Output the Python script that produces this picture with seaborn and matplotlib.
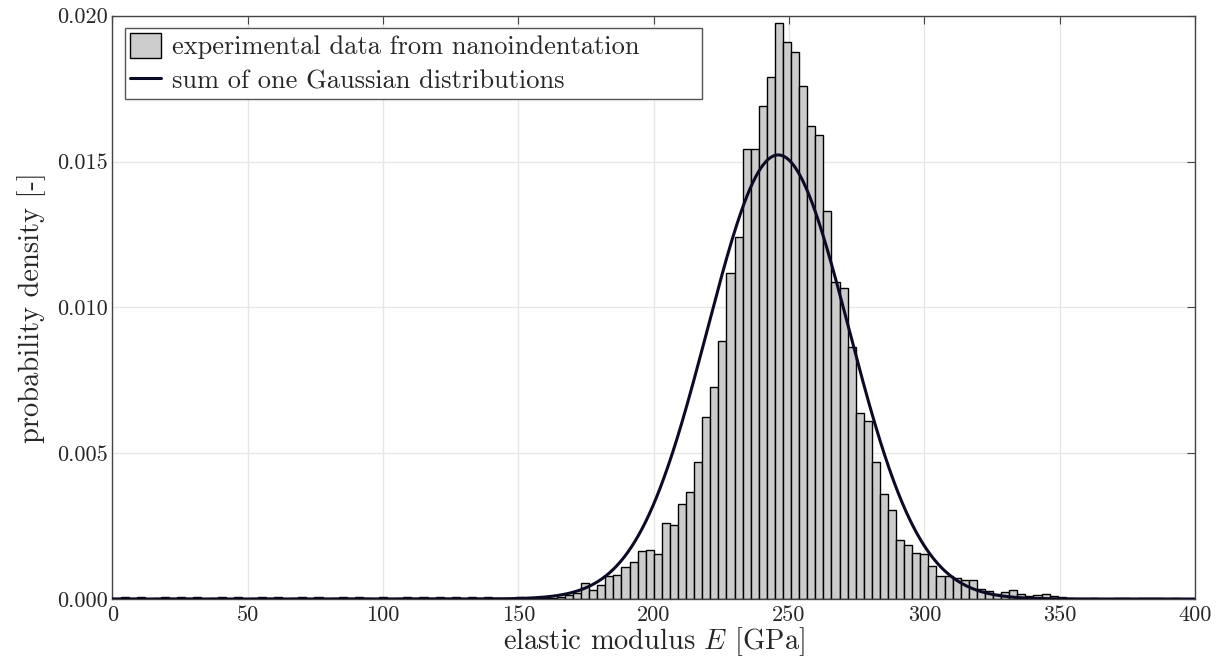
import numpy as np
import pandas as pd
import matplotlib
matplotlib.use("Agg")
import matplotlib.pyplot as plt
import seaborn as sns

# ---------------- data ----------------
bin_lo = 0.0
bin_hi = 400.0
n_bins = 134

# probability density per bin, bins 0..133
tail_left = [0.00003, 0.00006, 0.00003, 0.00006, 0.0, 0.00003, 0.00006, 0.00003, 0.00006, 0.00003,
             0.00006, 0.0, 0.00003, 0.00006, 0.0, 0.00006, 0.0, 0.00003, 0.00006, 0.00003,
             0.00006, 0.0, 0.00003, 0.00006, 0.0, 0.00006, 0.0, 0.00003, 0.00006, 0.00003,
             0.00006, 0.00003, 0.0, 0.00006, 0.0, 0.00003, 0.00006, 0.00003, 0.00006, 0.00003,
             0.00006, 0.00003, 0.00006, 0.0, 0.00006, 0.00003, 0.00006, 0.00003, 0.0, 0.0,
             0.00006, 0.00003, 0.00003, 0.00003]
main_peak = [0.00005, 0.00008, 0.00015, 0.00021, 0.00055, 0.00030, 0.00047, 0.00080, 0.00083, 0.00109,
             0.00127, 0.00165, 0.00167, 0.00155, 0.00260, 0.00255, 0.00326, 0.00366, 0.00470, 0.00623,
             0.00726, 0.00885, 0.01117, 0.01242, 0.01542, 0.01543, 0.01689, 0.01791, 0.01974, 0.01909,
             0.01877, 0.01760, 0.01622, 0.01592, 0.01331, 0.01088, 0.01067, 0.00863, 0.00638, 0.00609,
             0.00470, 0.00361, 0.00304, 0.00203, 0.00186, 0.00158, 0.00154, 0.00112, 0.00080, 0.00078,
             0.00073, 0.00066, 0.00064, 0.00035, 0.00028, 0.00018, 0.00024, 0.00030, 0.00016, 0.00010,
             0.00015, 0.00017, 0.00010, 0.00006]
tail_right = [0.00002, 0.0, 0.0, 0.00003, 0.0, 0.0, 0.00003, 0.00003, 0.0, 0.00003,
              0.00003, 0.00003, 0.0, 0.00003, 0.0, 0.0]
density = tail_left + main_peak + tail_right

# fitted Gaussian (one component)
gauss_mean = 246.0
gauss_std = 26.2
gauss_weight = 1.0

x_ticks = [0, 50, 100, 150, 200, 250, 300, 350, 400]
y_ticks = [0.000, 0.005, 0.010, 0.015, 0.020]

label_hist = "experimental data from nanoindentation"
label_fit = "sum of one Gaussian distributions"
xlabel = r"elastic modulus $E$ [GPa]"
ylabel = "probability density [-]"

# ---------------- style ----------------
sns.set_theme(style="whitegrid")
plt.rcParams["font.family"] = ["serif"]
plt.rcParams["font.serif"] = ["cmr10", "DejaVu Serif"]
plt.rcParams["mathtext.fontset"] = "cm"
plt.rcParams["axes.formatter.use_mathtext"] = True

edges = np.linspace(bin_lo, bin_hi, n_bins + 1)
centers = 0.5 * (edges[:-1] + edges[1:])
df = pd.DataFrame({"E": centers, "density": density})

xs = np.linspace(bin_lo, bin_hi, 1201)
pdf = gauss_weight * np.exp(-0.5 * ((xs - gauss_mean) / gauss_std) ** 2) / (gauss_std * np.sqrt(2 * np.pi))
df_fit = pd.DataFrame({"E": xs, "pdf": pdf})

fig = plt.figure(figsize=(12.24, 6.66), dpi=100)
ax = fig.add_axes([0.0919, 0.1006, 0.8844, 0.8758])
ax.set_facecolor("white")

sns.histplot(data=df, x="E", weights="density", bins=n_bins, binrange=(bin_lo, bin_hi),
             stat="count", color="#cccccc", edgecolor="black", linewidth=1.0, alpha=1.0,
             ax=ax, label=label_hist, zorder=2)
sns.lineplot(data=df_fit, x="E", y="pdf", color="#0b0b26", linewidth=2.2,
             ax=ax, label=label_fit, zorder=3)

ax.set_xlim(bin_lo, bin_hi)
ax.set_ylim(0, 0.020)
ax.set_xticks(x_ticks)
ax.set_yticks(y_ticks)
ax.set_xticklabels([str(t) for t in x_ticks])
ax.set_yticklabels([f"{t:.3f}" for t in y_ticks])

ax.grid(True, color="#e6e6e6", linewidth=1.0, zorder=0)
ax.set_axisbelow(True)
for s in ax.spines.values():
    s.set_color("#444444")
    s.set_linewidth(1.0)
    s.set_visible(True)
ax.tick_params(axis="both", which="major", direction="in", length=6, width=0.8,
               color="#444444", top=True, right=True, labelsize=16, pad=3)
ax.tick_params(axis="x", pad=5)

ax.set_xlabel(xlabel, fontsize=20.5, labelpad=0)
ax.set_ylabel(ylabel, fontsize=20.5, labelpad=8)

handles, labels = ax.get_legend_handles_labels()
order = [labels.index(label_hist), labels.index(label_fit)]
leg = ax.legend([handles[i] for i in order], [labels[i] for i in order],
                loc="upper left", bbox_to_anchor=(0.0115, 0.0, 0.533, 0.979), mode="expand",
                borderaxespad=0.0, fontsize=19, frameon=True, fancybox=False,
                framealpha=1.0, edgecolor="#555555",
                handlelength=1.15, handleheight=1.05, handletextpad=0.45,
                borderpad=0.2, labelspacing=0.3)
leg.get_frame().set_linewidth(1.0)

fig.savefig("out.png", dpi=100)
